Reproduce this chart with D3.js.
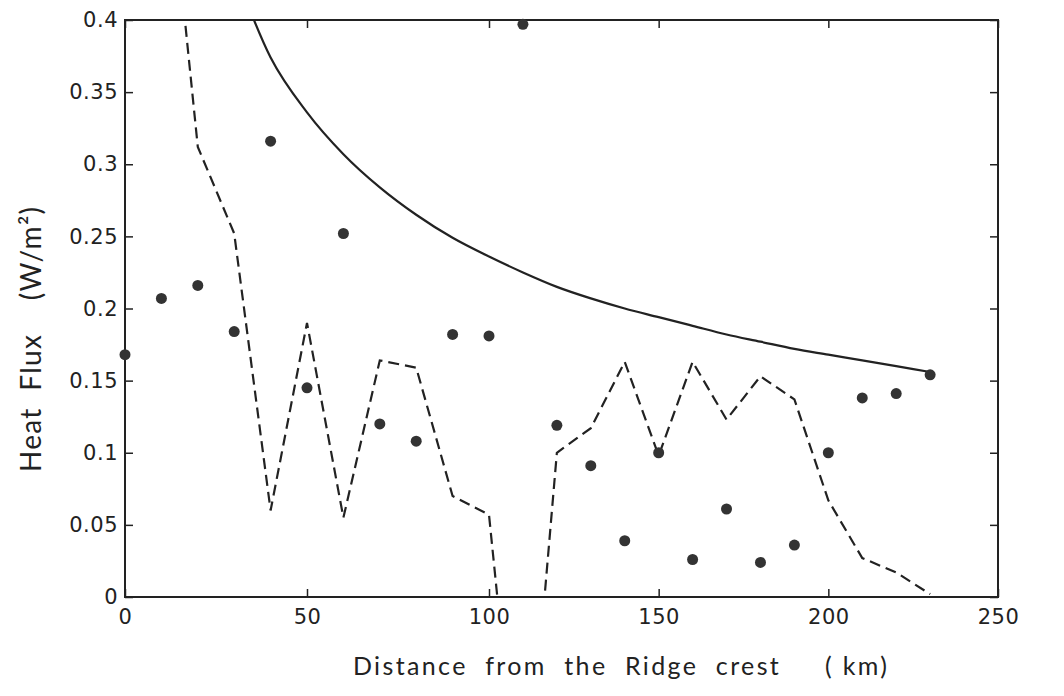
<!DOCTYPE html>
<html>
<head>
<meta charset="utf-8">
<script src="https://cdn.jsdelivr.net/npm/d3@7"></script>
<style>
  body { margin: 0; background: #fff; }
  text { fill: #222; }
  .title { white-space: pre; }
</style>
</head>
<body>
<svg id="chart" width="1064" height="696"></svg>
<script>
// Measured heat flux at each station (km from the ridge crest, W/m²)
const stationKm = [0, 10, 20, 30, 40, 50, 60, 70, 80, 90, 100, 110, 120, 130, 140, 150, 160, 170, 180, 190, 200, 210, 220, 230];
const measuredFlux = [0.168, 0.207, 0.216, 0.184, 0.316, 0.145, 0.252, 0.120, 0.108, 0.182, 0.181, 0.397, 0.119, 0.091, 0.039, 0.100, 0.026, 0.061, 0.024, 0.036, 0.100, 0.138, 0.141, 0.154];

// Conductive cooling prediction (solid curve)
const modelKm = [30, 40, 50, 60, 70, 80, 90, 100, 110, 120, 130, 140, 150, 160, 170, 180, 190, 200, 210, 220, 230];
const modelFlux = [0.435, 0.374, 0.336, 0.307, 0.284, 0.265, 0.249, 0.236, 0.225, 0.215, 0.207, 0.200, 0.194, 0.188, 0.182, 0.177, 0.172, 0.168, 0.164, 0.160, 0.156];

// Alternative estimate (dashed curve)
const dashedKm = [10, 20, 30, 40, 50, 60, 70, 80, 90, 100, 110, 120, 130, 140, 150, 160, 170, 180, 190, 200, 210, 220, 230];
const dashedFlux = [0.56, 0.312, 0.252, 0.060, 0.190, 0.055, 0.164, 0.159, 0.070, 0.057, -0.175, 0.100, 0.117, 0.163, 0.098, 0.163, 0.123, 0.153, 0.137, 0.067, 0.027, 0.017, 0.002];

const xTickValues = [0, 50, 100, 150, 200, 250];
const xTickLabels = ["0", "50", "100", "150", "200", "250"];
const yTickValues = [0, 0.05, 0.1, 0.15, 0.2, 0.25, 0.3, 0.35, 0.4];
const yTickLabels = ["0", "0.05", "0.1", "0.15", "0.2", "0.25", "0.3", "0.35", "0.4"];

const svg = d3.select("#chart");
const plotLeft = 125, plotRight = 998, plotTop = 20, plotBottom = 597;

const x = d3.scaleLinear().domain([0, 100, 250]).range([plotLeft, 489, plotRight]);
const y = d3.scaleLinear().domain([0, 0.4]).range([plotBottom, plotTop]);

const ink = "#222";
const tickFont = "DejaVu Sans, Verdana, sans-serif";

// plot-area clip
svg.append("clipPath").attr("id", "plotClip")
  .append("rect").attr("x", plotLeft).attr("y", plotTop)
  .attr("width", plotRight - plotLeft).attr("height", plotBottom - plotTop);

function styleAxis(g, showText) {
  g.select(".domain").remove();
  g.selectAll(".tick line").attr("stroke", ink).attr("stroke-width", 1.5);
  g.selectAll(".tick text")
    .style("font-family", tickFont)
    .style("font-size", "21px")
    .style("letter-spacing", "0.5px")
    .attr("fill", ink);
  if (!showText) g.selectAll(".tick text").remove();
}

// bottom axis with labels
svg.append("g").attr("transform", `translate(0,${plotBottom})`)
  .call(d3.axisBottom(x).tickValues(xTickValues)
    .tickFormat((d, i) => xTickLabels[i]).tickSize(-8).tickPadding(12))
  .call(g => styleAxis(g, true));

// top axis ticks
svg.append("g").attr("transform", `translate(0,${plotTop})`)
  .call(d3.axisTop(x).tickValues(xTickValues).tickFormat("").tickSize(-8))
  .call(g => styleAxis(g, false));

// left axis with labels
svg.append("g").attr("transform", `translate(${plotLeft},0)`)
  .call(d3.axisLeft(y).tickValues(yTickValues)
    .tickFormat((d, i) => yTickLabels[i]).tickSize(-8).tickPadding(7))
  .call(g => styleAxis(g, true));

// right axis ticks
svg.append("g").attr("transform", `translate(${plotRight},0)`)
  .call(d3.axisRight(y).tickValues(yTickValues).tickFormat("").tickSize(-8))
  .call(g => styleAxis(g, false));

// frame
svg.append("rect")
  .attr("x", plotLeft).attr("y", plotTop)
  .attr("width", plotRight - plotLeft).attr("height", plotBottom - plotTop)
  .attr("fill", "none").attr("stroke", ink).attr("stroke-width", 2);

const plot = svg.append("g").attr("clip-path", "url(#plotClip)");

// solid model curve
const modelLine = d3.line().x(d => x(d[0])).y(d => y(d[1])).curve(d3.curveMonotoneX);
plot.append("path")
  .datum(d3.zip(modelKm, modelFlux))
  .attr("d", modelLine)
  .attr("fill", "none").attr("stroke", ink).attr("stroke-width", 2.2);

// dashed curve
const dashLine = d3.line().x(d => x(d[0])).y(d => y(d[1]));
plot.append("path")
  .datum(d3.zip(dashedKm, dashedFlux))
  .attr("d", dashLine)
  .attr("fill", "none").attr("stroke", ink).attr("stroke-width", 2.2)
  .attr("stroke-dasharray", "11,6");

// measured points
svg.append("g").selectAll("circle")
  .data(d3.zip(stationKm, measuredFlux))
  .join("circle")
  .attr("cx", d => x(d[0])).attr("cy", d => y(d[1]))
  .attr("r", 5.5).attr("fill", "#333");

// axis titles
svg.append("text")
  .attr("class", "title")
  .attr("x", 353).attr("y", 675)
  .attr("textLength", 534).attr("lengthAdjust", "spacing")
  .style("font-family", "Lato, 'Open Sans', sans-serif")
  .style("font-size", "25px")
  .attr("fill", "#333")
  .text("Distance  from  the  Ridge  crest     ( km)");

svg.append("text")
  .attr("class", "title")
  .attr("transform", "translate(41,472) rotate(-90)")
  .attr("textLength", 265).attr("lengthAdjust", "spacing")
  .style("font-family", "Lato, 'Open Sans', sans-serif")
  .style("font-size", "28px")
  .attr("fill", "#333")
  .text("Heat  Flux    (W/m²)");
</script>
</body>
</html>
